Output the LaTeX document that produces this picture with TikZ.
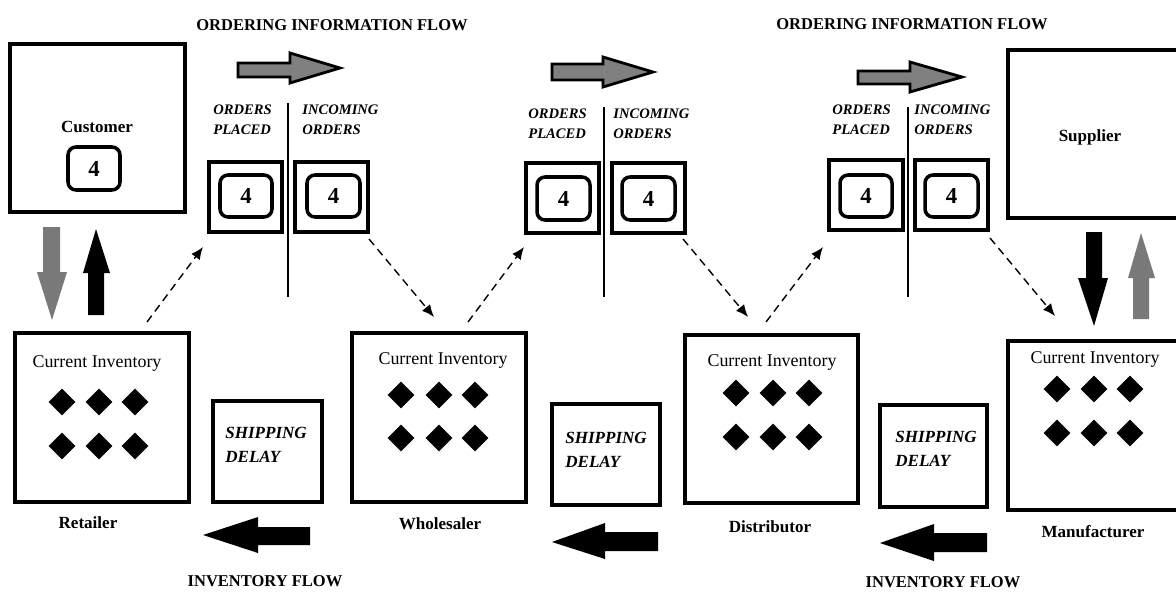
\documentclass[tikz,border=0pt]{standalone}
\usepackage{fontspec}
\setmainfont{Liberation Serif}
\usetikzlibrary{arrows.meta,shapes.geometric,fit}
\begin{document}
\begin{tikzpicture}[x=0.02cm,y=-0.02cm,
  box/.style={draw, line width=2pt, inner sep=0pt},
  rbox/.style={draw, line width=2pt, rounded corners=0.16cm, inner sep=0pt},
  titletxt/.style={font=\fontsize{9.4}{11}\selectfont\bfseries, inner sep=0pt},
  nametxt/.style={font=\fontsize{9.7}{11}\selectfont\bfseries, inner sep=0pt},
  invtxt/.style={font=\fontsize{10.2}{12}\selectfont, inner sep=0pt},
  numtxt/.style={font=\fontsize{13}{14}\selectfont\bfseries, inner sep=0pt},
  ordtxt/.style={font=\fontsize{8.3}{11.3}\selectfont\bfseries\itshape, align=left, anchor=west, inner sep=0pt},
  shiptxt/.style={font=\fontsize{9.7}{13.6}\selectfont\bfseries\itshape, align=left, anchor=west, inner sep=0pt},
  dia/.style={diamond, fill=black, inner sep=0pt, minimum size=0.54cm},
  thinline/.style={line width=0.6pt},
  dasharrow/.style={line width=0.8pt, dash pattern=on 4.5pt off 3pt, -{Latex[length=7pt,width=6pt]}},
  garrow/.style={fill=gray, draw=black, line width=1.6pt, line join=miter},
  gvarrow/.style={fill=gray!95!black},
  barrow/.style={fill=black}
]
\useasboundingbox (0,0) rectangle (1176,592);
\clip (0,0) rectangle (1176,592);

% titles
\node[titletxt] (t1) at (332,25) {ORDERING INFORMATION FLOW};
\node[titletxt] (t2) at (912,24) {ORDERING INFORMATION FLOW};
\node[titletxt] (t3) at (265,581) {INVENTORY FLOW};
\node[titletxt] (t4) at (943,582) {INVENTORY FLOW};

% customer
\node[box, fit={(10,44) (185,212)}] (cust) {};
\node[nametxt] (custl) at (97,127) {Customer};
\node[rbox, fit={(68,147) (120,190)}] (custn) {};
\node[numtxt] (custv) at (custn.center) {4};

% supplier
\node[box, fit={(1008,50) (1190,218)}] (supp) {};
\node[nametxt] (suppl) at (1090,137) {Supplier};

% order boxes, pair 1
\draw[thinline] (288,103) coordinate (v1a) -- (288,297) coordinate (v1b);
\node[ordtxt] (op1) at (213,120) {ORDERS\\PLACED};
\node[ordtxt] (io1) at (302,120) {INCOMING\\ORDERS};
\node[box, fit={(209,162) (282,232)}] (po1) {};
\node[rbox, fit={(220,175) (272,217)}] (po1n) {};
\node[numtxt] (po1v) at (po1n.center) {4};
\node[box, fit={(295,162) (368,232)}] (in1) {};
\node[rbox, fit={(307,175) (360,217)}] (in1n) {};
\node[numtxt] (in1v) at (in1n.center) {4};

% pair 2
\draw[thinline] (604,107) coordinate (v2a) -- (604,297) coordinate (v2b);
\node[ordtxt] (op2) at (528,124) {ORDERS\\PLACED};
\node[ordtxt] (io2) at (613,124) {INCOMING\\ORDERS};
\node[box, fit={(526,163) (599,233)}] (po2) {};
\node[rbox, fit={(537,177) (590,220)}] (po2n) {};
\node[numtxt] (po2v) at (po2n.center) {4};
\node[box, fit={(612,163) (685,233)}] (in2) {};
\node[rbox, fit={(622,177) (675,220)}] (in2n) {};
\node[numtxt] (in2v) at (in2n.center) {4};

% pair 3
\draw[thinline] (908,107) coordinate (v3a) -- (908,297) coordinate (v3b);
\node[ordtxt] (op3) at (832,120) {ORDERS\\PLACED};
\node[ordtxt] (io3) at (914,120) {INCOMING\\ORDERS};
\node[box, fit={(829,160) (903,230)}] (po3) {};
\node[rbox, fit={(840,175) (892,217)}] (po3n) {};
\node[numtxt] (po3v) at (po3n.center) {4};
\node[box, fit={(915,160) (988,230)}] (in3) {};
\node[rbox, fit={(925,175) (978,217)}] (in3n) {};
\node[numtxt] (in3v) at (in3n.center) {4};

% ordering flow arrows
\draw[garrow] (238,63) -- (290,63) -- (290,53) -- (340,68) -- (290,83) -- (290,77) -- (238,77) -- cycle;
\draw[garrow] (552,64) -- (603,64) -- (603,57) -- (653,72) -- (603,87) -- (603,80) -- (552,80) -- cycle;
\draw[garrow] (858,71) -- (910,71) -- (910,62) -- (962,77) -- (910,92) -- (910,84) -- (858,84) -- cycle;

% inventory boxes
\node[box, fit={(15,333) (189,502)}] (ret) {};
\node[invtxt] (retl) at (97,363) {Current Inventory};
\node[nametxt] (retn) at (88,523) {Retailer};
\foreach \xx [count=\i] in {62,99,135} {
  \node[dia] (ret-a\i) at (\xx,402) {};
  \node[dia] (ret-b\i) at (\xx,446) {};
}

\node[box, fit={(352,333) (526,502)}] (whs) {};
\node[invtxt] (whsl) at (443,360) {Current Inventory};
\node[nametxt] (whsn) at (440,524) {Wholesaler};
\foreach \xx [count=\i] in {401,439,475} {
  \node[dia] (whs-a\i) at (\xx,395) {};
  \node[dia] (whs-b\i) at (\xx,438) {};
}

\node[box, fit={(685,335) (858,503)}] (dis) {};
\node[invtxt] (disl) at (772,362) {Current Inventory};
\node[nametxt] (disn) at (770,527) {Distributor};
\foreach \xx [count=\i] in {736,773,809} {
  \node[dia] (dis-a\i) at (\xx,393) {};
  \node[dia] (dis-b\i) at (\xx,437) {};
}

\node[box, fit={(1008,341) (1190,510)}] (man) {};
\node[invtxt] (manl) at (1095,359) {Current Inventory};
\node[nametxt] (mann) at (1093,532) {Manufacturer};
\foreach \xx [count=\i] in {1057,1094,1130} {
  \node[dia] (man-a\i) at (\xx,389) {};
  \node[dia] (man-b\i) at (\xx,433) {};
}

% shipping delays
\node[box, fit={(213,401) (322,502)}] (sd1) {};
\node[shiptxt] (sd1t) at (225,445) {SHIPPING\\DELAY};
\node[box, fit={(552,404) (660,505)}] (sd2) {};
\node[shiptxt] (sd2t) at (565,450) {SHIPPING\\DELAY};
\node[box, fit={(880,405) (987,507)}] (sd3) {};
\node[shiptxt] (sd3t) at (895,449) {SHIPPING\\DELAY};

% inventory flow arrows
\fill[barrow] (310,527) -- (258,527) -- (258,517) -- (203,535) -- (258,553) -- (258,545) -- (310,545) -- cycle;
\fill[barrow] (658,532) -- (605,532) -- (605,523) -- (552,542) -- (605,559) -- (605,551) -- (658,551) -- cycle;
\fill[barrow] (987,533) -- (934,533) -- (934,524) -- (880,543) -- (934,561) -- (934,552) -- (987,552) -- cycle;

% customer / retailer arrows
\fill[gvarrow] (43,227) -- (60,227) -- (60,272) -- (67,272) -- (52,320) -- (37,272) -- (43,272) -- cycle;
\fill[barrow] (96,229) -- (110,273) -- (104,273) -- (104,315) -- (88,315) -- (88,273) -- (83,273) -- cycle;
% supplier / manufacturer arrows
\fill[barrow] (1086,232) -- (1102,232) -- (1102,278) -- (1108,278) -- (1094,326) -- (1078,278) -- (1086,278) -- cycle;
\fill[gvarrow] (1141,233) -- (1155,278) -- (1149,278) -- (1149,319) -- (1133,319) -- (1133,278) -- (1128,278) -- cycle;

% dashed order connectors
\coordinate (d1a) at (147,322); \coordinate (d1b) at (203,247);
\coordinate (d2a) at (369,239); \coordinate (d2b) at (434,317);
\coordinate (d3a) at (468,322); \coordinate (d3b) at (524,247);
\coordinate (d4a) at (683,239); \coordinate (d4b) at (748,317);
\coordinate (d5a) at (766,322); \coordinate (d5b) at (823,247);
\coordinate (d6a) at (990,238); \coordinate (d6b) at (1055,316);
\draw[dasharrow] (d1a) -- (d1b);
\draw[dasharrow] (d2a) -- (d2b);
\draw[dasharrow] (d3a) -- (d3b);
\draw[dasharrow] (d4a) -- (d4b);
\draw[dasharrow] (d5a) -- (d5b);
\draw[dasharrow] (d6a) -- (d6b);
\end{tikzpicture}
\end{document}
